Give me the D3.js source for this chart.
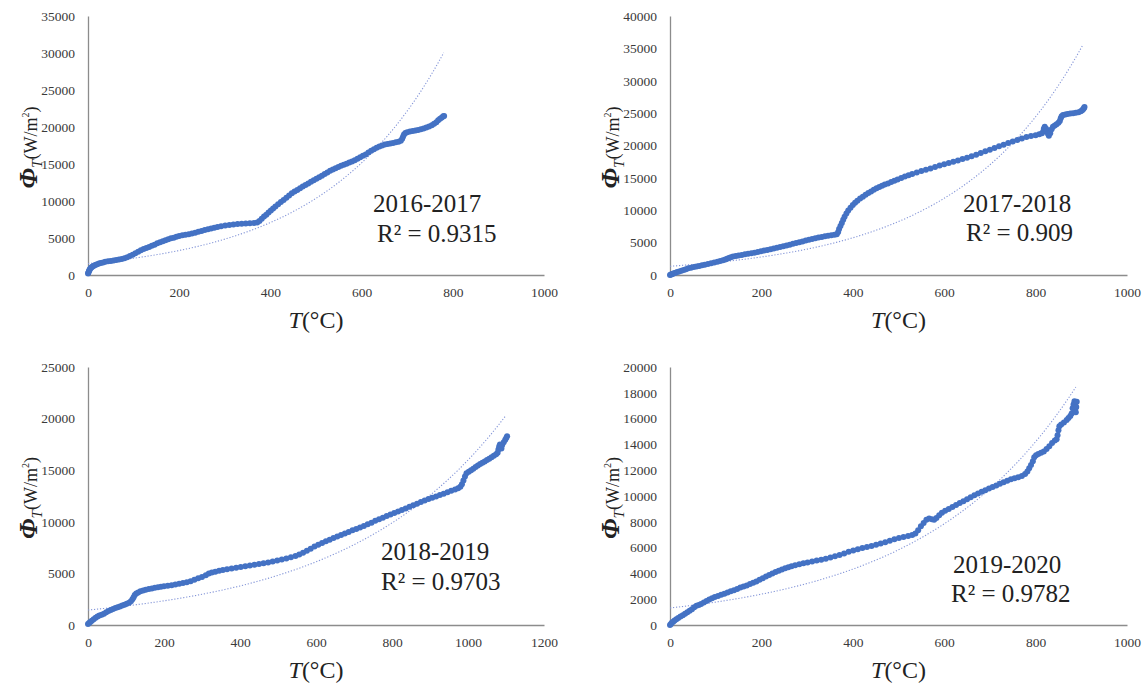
<!DOCTYPE html>
<html>
<head>
<meta charset="utf-8">
<script src="https://cdn.jsdelivr.net/npm/d3@7"></script>
<style>
  html, body { margin: 0; padding: 0; background: #fff; }
  svg { display: block; }
  .domain { stroke: #8c8c8c; stroke-width: 1.3px; }
</style>
</head>
<body>
<svg id="chart" width="1145" height="688"></svg>
<script>
// Heat flux Φ_T versus temperature T, one season per panel: [T (°C), Φ_T (W/m²)]
const points2016 = [[0,200],[1,350],[2,500],[3,650],[4,780],[6,950],[8,1050],[10,1150],[13,1250],[16,1350],[20,1450],[24,1550],[28,1620],[33,1700],[38,1780],[44,1850],[50,1900],[56,1950],[62,2020],[68,2080],[74,2150],[80,2250],[86,2400],[92,2560],[98,2750],[104,2950],[110,3150],[116,3330],[122,3500],[128,3650],[134,3800],[140,3950],[146,4100],[152,4280],[158,4420],[164,4550],[170,4700],[176,4820],[182,4950],[188,5050],[194,5180],[200,5280],[207,5360],[214,5440],[221,5520],[228,5600],[235,5720],[242,5850],[249,5960],[256,6080],[263,6180],[270,6280],[277,6400],[284,6500],[292,6600],[301,6680],[310,6750],[319,6820],[328,6880],[337,6920],[346,6960],[355,7000],[364,7040],[371,7100],[376,7300],[381,7600],[386,7900],[391,8150],[396,8450],[401,8700],[406,8980],[411,9250],[417,9550],[423,9850],[429,10150],[435,10450],[441,10750],[447,11040],[453,11280],[459,11500],[465,11720],[471,11950],[477,12170],[483,12380],[489,12600],[495,12800],[501,13000],[507,13200],[513,13420],[519,13650],[525,13850],[531,14080],[537,14250],[543,14420],[549,14580],[555,14750],[561,14900],[567,15050],[573,15200],[579,15330],[585,15500],[591,15700],[597,15900],[603,16100],[609,16300],[615,16550],[621,16800],[627,17000],[633,17200],[639,17350],[645,17500],[651,17620],[657,17700],[663,17780],[669,17850],[675,17930],[681,18020],[686,18150],[689,18400],[691,18700],[693,19000],[696,19200],[700,19300],[706,19380],[712,19450],[718,19520],[724,19600],[730,19700],[736,19800],[742,19930],[748,20080],[754,20250],[759,20450],[764,20650],[768,20900],[772,21100],[776,21300],[779,21450],[781,21500]];

const points2017 = [[0,0],[2,60],[4,130],[6,200],[9,280],[12,360],[16,450],[20,550],[25,650],[30,780],[35,900],[40,1030],[46,1120],[52,1220],[58,1320],[64,1400],[70,1490],[76,1580],[83,1700],[90,1820],[97,1940],[104,2050],[110,2170],[116,2290],[121,2400],[125,2520],[129,2640],[133,2750],[138,2850],[144,2930],[150,3000],[157,3100],[164,3200],[171,3280],[178,3360],[185,3450],[192,3560],[199,3660],[206,3770],[213,3880],[220,3980],[227,4090],[234,4200],[241,4320],[248,4440],[255,4560],[262,4690],[269,4810],[276,4940],[283,5060],[290,5190],[297,5310],[304,5440],[311,5560],[318,5670],[325,5780],[332,5880],[339,5980],[346,6080],[353,6150],[360,6220],[365,6300],[368,6650],[370,7100],[373,7550],[376,8050],[379,8550],[382,9000],[386,9500],[390,9950],[395,10400],[400,10800],[405,11150],[410,11450],[416,11800],[422,12100],[428,12380],[434,12650],[440,12900],[446,13150],[452,13380],[458,13600],[464,13800],[470,13980],[477,14150],[484,14350],[491,14550],[498,14750],[506,15000],[514,15200],[522,15400],[530,15600],[540,15830],[550,16050],[560,16250],[570,16450],[580,16680],[590,16900],[600,17100],[610,17300],[620,17500],[630,17700],[640,17900],[650,18100],[660,18330],[670,18580],[680,18850],[690,19100],[700,19350],[710,19620],[720,19880],[730,20130],[740,20380],[750,20600],[760,20850],[770,21100],[780,21300],[790,21450],[800,21600],[808,21750],[814,21900],[817,22200],[818,22600],[820,22900],[823,22600],[825,22200],[827,21800],[829,21500],[832,21900],[835,22500],[838,22900],[842,23100],[846,23300],[850,23500],[853,23800],[855,24200],[857,24500],[860,24700],[865,24800],[870,24850],[876,24950],[882,25000],[888,25050],[894,25150],[899,25300],[902,25450],[904,25600],[906,25800],[907,25950]];

const points2018 = [[0,100],[3,200],[6,300],[10,420],[15,560],[20,700],[25,830],[30,920],[36,1000],[42,1100],[48,1230],[54,1350],[60,1450],[66,1550],[72,1640],[78,1720],[84,1800],[90,1880],[96,1960],[102,2050],[108,2150],[113,2300],[117,2500],[120,2700],[123,2900],[127,3050],[132,3150],[138,3260],[145,3350],[152,3420],[160,3480],[168,3540],[176,3600],[184,3650],[192,3700],[200,3750],[210,3800],[220,3860],[230,3930],[240,4000],[250,4070],[260,4150],[270,4250],[280,4380],[290,4520],[300,4660],[310,4820],[318,4980],[326,5080],[335,5170],[345,5250],[355,5320],[366,5400],[378,5480],[390,5550],[402,5620],[414,5690],[426,5760],[438,5830],[450,5900],[462,5980],[474,6060],[486,6150],[498,6250],[510,6350],[522,6450],[534,6560],[546,6690],[556,6820],[566,7000],[576,7200],[586,7400],[596,7600],[606,7780],[616,7950],[626,8110],[636,8270],[646,8420],[656,8570],[666,8720],[676,8870],[686,9020],[696,9170],[706,9310],[716,9450],[726,9600],[736,9760],[746,9920],[756,10090],[766,10250],[776,10400],[786,10550],[796,10700],[806,10850],[816,11000],[826,11150],[836,11300],[846,11450],[856,11600],[866,11760],[876,11920],[886,12060],[896,12200],[906,12330],[916,12460],[926,12590],[936,12720],[946,12860],[956,13000],[966,13130],[974,13250],[980,13400],[984,13650],[988,14000],[992,14400],[996,14700],[1002,14850],[1008,15000],[1014,15150],[1020,15300],[1026,15450],[1032,15600],[1038,15720],[1044,15850],[1050,16000],[1056,16120],[1062,16250],[1068,16400],[1074,16550],[1078,16700],[1080,17000],[1082,17300],[1084,17500],[1086,17300],[1088,17100],[1090,17450],[1094,17700],[1098,17950],[1101,18150],[1103,18300]];

const points2019 = [[0,0],[2,80],[4,170],[7,260],[10,350],[14,450],[18,550],[23,650],[28,760],[33,870],[38,980],[43,1100],[48,1230],[53,1380],[58,1500],[63,1560],[68,1630],[74,1740],[80,1860],[86,1980],[92,2080],[98,2170],[105,2250],[112,2340],[119,2430],[126,2520],[133,2610],[140,2700],[147,2800],[154,2900],[161,2980],[168,3070],[175,3170],[182,3270],[189,3380],[196,3500],[203,3620],[210,3760],[217,3880],[224,3990],[231,4100],[238,4200],[245,4300],[252,4400],[259,4480],[266,4560],[274,4640],[283,4710],[292,4780],[301,4850],[311,4930],[321,5000],[331,5060],[341,5140],[351,5230],[361,5330],[371,5430],[381,5550],[391,5680],[401,5780],[411,5880],[421,5960],[431,6040],[441,6130],[451,6220],[461,6320],[471,6420],[481,6530],[491,6640],[501,6740],[511,6830],[521,6900],[530,6980],[537,7100],[543,7350],[549,7650],[555,7900],[561,8150],[567,8250],[573,8200],[578,8150],[583,8300],[589,8500],[595,8700],[602,8850],[610,9000],[618,9150],[626,9300],[634,9450],[642,9600],[650,9750],[658,9900],[666,10050],[674,10200],[682,10320],[690,10450],[698,10580],[706,10700],[714,10820],[722,10940],[730,11060],[738,11180],[746,11290],[754,11380],[762,11450],[770,11550],[777,11700],[782,11900],[786,12150],[790,12400],[794,12700],[797,13000],[801,13150],[806,13250],[812,13350],[818,13450],[824,13650],[830,13850],[836,14100],[842,14300],[846,14400],[848,14700],[850,15100],[852,15400],[856,15550],[862,15700],[868,15900],[872,16050],[876,16200],[879,16400],[881,16800],[883,17100],[885,17350],[886,17100],[887,16800],[888,16500],[889,16900],[890,17300]];

// Season names and fit quality of the exponential trend lines
const periodLabels = ["2016-2017", "2017-2018", "2018-2019", "2019-2020"];
const rSquaredLabels = ["R\u00B2 = 0.9315", "R\u00B2 = 0.909", "R\u00B2 = 0.9703", "R\u00B2 = 0.9782"];

// Exponential trend Φ = a·exp(b·T)
const trendA = [1550, 1350, 1450, 1320];
const trendB = [0.0038, 0.00362, 0.0024, 0.00297];

// Axis tick values
const xTicks1000 = [0, 200, 400, 600, 800, 1000];
const xTicks1200 = [0, 200, 400, 600, 800, 1000, 1200];
const yTicks2016 = [0, 5000, 10000, 15000, 20000, 25000, 30000, 35000];
const yTicks2017 = [0, 5000, 10000, 15000, 20000, 25000, 30000, 35000, 40000];
const yTicks2018 = [0, 5000, 10000, 15000, 20000, 25000];
const yTicks2019 = [0, 2000, 4000, 6000, 8000, 10000, 12000, 14000, 16000, 18000, 20000];

const seriesList = [points2016, points2017, points2018, points2019];
const xTickList = [xTicks1000, xTicks1000, xTicks1200, xTicks1000];
const yTickList = [yTicks2016, yTicks2017, yTicks2018, yTicks2019];

// Panel frames (pixels) and label placement
const frames = [
  { left: 88,  right: 544,  top: 16,  bottom: 275, yTitleX: 37,  txt: [[373, 212], [377, 242]] },
  { left: 670, right: 1127, top: 16,  bottom: 275, yTitleX: 619, txt: [[963, 212], [966, 241]] },
  { left: 88,  right: 544,  top: 367, bottom: 625, yTitleX: 37,  txt: [[381, 560], [381, 590]] },
  { left: 670, right: 1127, top: 367, bottom: 625, yTitleX: 619, txt: [[953, 573], [951, 602]] }
];

const svg = d3.select("#chart");
const serif = '"Liberation Serif", "Times New Roman", serif';
const blue = "#4472C4";

function styleTicks(sel) {
  sel.attr("font-family", serif).attr("font-size", 13.5);
  sel.selectAll(".tick text").attr("fill", "#3a3a3a");
}

frames.forEach((f, i) => {
  const data = seriesList[i];
  const xt = xTickList[i];
  const yt = yTickList[i];
  const x = d3.scaleLinear().domain([0, xt[xt.length - 1]]).range([f.left, f.right]);
  const y = d3.scaleLinear().domain([0, yt[yt.length - 1]]).range([f.bottom, f.top]);
  const g = svg.append("g");

  // axes
  g.append("g")
    .attr("transform", `translate(0,${f.bottom})`)
    .call(d3.axisBottom(x).tickValues(xt).tickFormat(d3.format("d")).tickSize(0).tickPadding(12.5))
    .call(styleTicks);
  g.append("g")
    .attr("transform", `translate(${f.left},0)`)
    .call(d3.axisLeft(y).tickValues(yt).tickFormat(d3.format("d")).tickSize(0).tickPadding(13))
    .call(styleTicks);

  // exponential trend line, dotted
  const tMax = d3.max(data, d => d[0]);
  const tSamples = d3.range(0, tMax + 0.1, 4);
  const trend = tSamples.map(t => [t, trendA[i] * Math.exp(trendB[i] * t)]);
  g.append("path")
    .attr("d", d3.line().x(d => x(d[0])).y(d => y(d[1]))(trend))
    .attr("fill", "none")
    .attr("stroke", "#8596d8")
    .attr("stroke-width", 1.1)
    .attr("stroke-dasharray", "1.2,1.8");

  // measured points
  g.append("g").selectAll("circle")
    .data(data)
    .join("circle")
    .attr("cx", d => x(d[0]))
    .attr("cy", d => y(d[1]))
    .attr("r", 3)
    .attr("fill", blue);

  // x-axis title: T(°C)
  const xt2 = g.append("text")
    .attr("x", (f.left + f.right) / 2)
    .attr("y", f.bottom + 53)
    .attr("text-anchor", "middle")
    .attr("font-family", serif)
    .attr("font-size", 24)
    .attr("fill", "#222");
  xt2.append("tspan").attr("font-style", "italic").text("T");
  xt2.append("tspan").text("(\u00B0C)");

  // y-axis title: Φ_T (W/m²)
  const yt2 = g.append("text")
    .attr("transform", `translate(${f.yTitleX},${(f.top + f.bottom) / 2 + 2}) rotate(-90)`)
    .attr("text-anchor", "middle")
    .attr("font-family", serif)
    .attr("fill", "#222");
  yt2.append("tspan").attr("font-style", "italic").attr("font-weight", "bold").attr("font-size", 26).text("\u03A6");
  yt2.append("tspan").attr("font-style", "italic").attr("font-size", 15).attr("dy", 5).text("T");
  yt2.append("tspan").attr("font-size", 18).attr("dy", -5).text("(W/m");
  yt2.append("tspan").attr("font-size", 10).attr("dy", -8).text("2");
  yt2.append("tspan").attr("font-size", 18).attr("dy", 8).text(")");

  // season and R² annotation
  [periodLabels[i], rSquaredLabels[i]].forEach((s, k) => {
    g.append("text")
      .attr("x", f.txt[k][0])
      .attr("y", f.txt[k][1])
      .attr("font-family", serif)
      .attr("font-size", 25)
      .attr("fill", "#222")
      .text(s);
  });
});
</script>
</body>
</html>
